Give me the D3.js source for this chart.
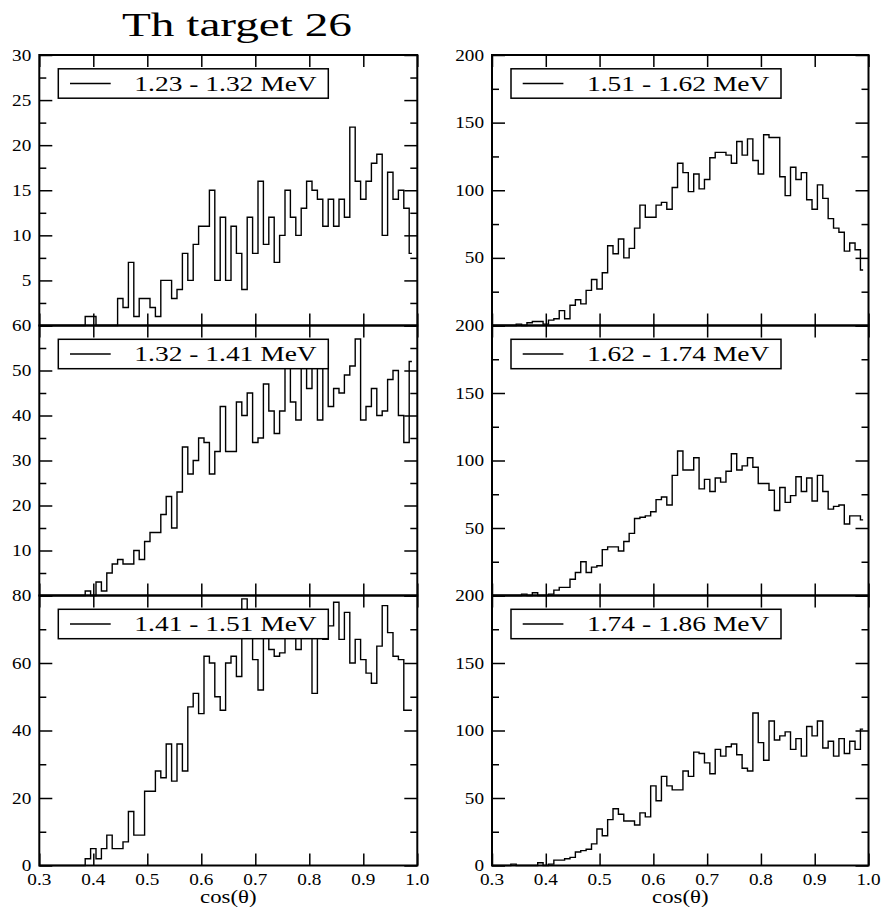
<!DOCTYPE html>
<html>
<head>
<meta charset="utf-8">
<script src="https://cdn.jsdelivr.net/npm/d3@7"></script>
<style>
  html, body { margin: 0; padding: 0; background: #fff; }
  svg { display: block; }
  text { font-family: "Liberation Serif", "DejaVu Serif", serif; fill: #000; }
</style>
</head>
<body>
<svg id="chart" width="885" height="911"></svg>
<script>
// Bin centres in cos(theta)
const cosTheta = [
  0.30, 0.31, 0.32, 0.33, 0.34, 0.35, 0.36, 0.37, 0.38, 0.39,
  0.40, 0.41, 0.42, 0.43, 0.44, 0.45, 0.46, 0.47, 0.48, 0.49,
  0.50, 0.51, 0.52, 0.53, 0.54, 0.55, 0.56, 0.57, 0.58, 0.59,
  0.60, 0.61, 0.62, 0.63, 0.64, 0.65, 0.66, 0.67, 0.68, 0.69,
  0.70, 0.71, 0.72, 0.73, 0.74, 0.75, 0.76, 0.77, 0.78, 0.79,
  0.80, 0.81, 0.82, 0.83, 0.84, 0.85, 0.86, 0.87, 0.88, 0.89,
  0.90, 0.91, 0.92, 0.93, 0.94, 0.95, 0.96, 0.97, 0.98, 0.99
];

// Counts per energy window
const counts_123_132 = [
  0, 0, 0, 0, 0, 0, 0, 0, 0, 1,
  1, 0, 0, 0, 0, 3, 2, 7, 1, 3,
  3, 2, 1, 5, 5, 3, 4, 8, 5, 9,
  11, 11, 15, 5, 12, 5, 11, 8, 4, 12,
  8, 16, 9, 12, 7, 10, 15, 12, 10, 13,
  16, 15, 14, 11, 14, 11, 14, 12, 22, 16,
  14, 16, 18, 19, 10, 17, 14, 15, 13, 8
];
const counts_132_141 = [
  0, 0, 0, 0, 0, 0, 0, 0, 0, 1,
  0, 3, 1, 5, 7, 8, 7, 7, 10, 8,
  12, 14, 14, 18, 22, 15, 23, 33, 27, 30,
  35, 34, 27, 32, 42, 32, 32, 43, 40, 45,
  34, 35, 47, 41, 36, 41, 52, 43, 39, 52,
  46, 52, 39, 51, 42, 46, 45, 49, 51, 57,
  39, 42, 46, 40, 41, 48, 50, 40, 34, 52
];
const counts_141_151 = [
  0, 0, 0, 0, 0, 0, 0, 0, 0, 2,
  5, 2, 5, 9, 5, 5, 7, 16, 9, 9,
  22, 22, 28, 26, 36, 25, 36, 28, 47, 51,
  45, 62, 60, 50, 46, 60, 62, 56, 79, 68,
  61, 52, 70, 64, 62, 63, 70, 70, 64, 70,
  70, 51, 70, 67, 71, 78, 67, 75, 60, 67,
  61, 57, 54, 65, 77, 69, 62, 61, 46, 46
];
const counts_151_162 = [
  0, 0, 0, 0, 0, 1, 0, 2, 3, 3,
  1, 4, 5, 11, 5, 15, 19, 16, 26, 34,
  27, 39, 59, 53, 64, 50, 57, 72, 89, 80,
  80, 89, 91, 86, 102, 120, 113, 99, 112, 101,
  108, 124, 128, 128, 126, 120, 136, 126, 138, 122,
  112, 141, 139, 139, 110, 96, 117, 108, 113, 93,
  86, 104, 94, 79, 72, 69, 55, 61, 56, 41
];
const counts_162_174 = [
  0, 0, 0, 0, 0, 0, 1, 0, 2, 0,
  0, 1, 4, 6, 6, 12, 17, 25, 17, 21,
  22, 34, 36, 36, 33, 40, 46, 57, 58, 59,
  62, 71, 73, 67, 89, 107, 93, 93, 102, 79,
  86, 77, 87, 84, 92, 105, 93, 96, 102, 95,
  83, 83, 78, 63, 80, 69, 74, 88, 77, 87,
  70, 89, 77, 64, 66, 67, 53, 59, 59, 56
];
const counts_174_186 = [
  0, 0, 0, 0, 1, 0, 0, 0, 0, 2,
  0, 1, 4, 4, 5, 6, 10, 11, 12, 16,
  27, 22, 34, 42, 38, 33, 33, 30, 39, 36,
  59, 48, 66, 59, 56, 56, 70, 66, 84, 83,
  76, 68, 86, 81, 88, 90, 82, 72, 70, 113,
  91, 78, 107, 93, 96, 99, 86, 94, 81, 103,
  96, 107, 87, 92, 81, 94, 83, 92, 86, 101
];

// Energy window labels
const windowLabels = [
  "1.23 - 1.32 MeV", "1.32 - 1.41 MeV", "1.41 - 1.51 MeV",
  "1.51 - 1.62 MeV", "1.62 - 1.74 MeV", "1.74 - 1.86 MeV"
];

// Axis ticks
const xTicks = [0.3, 0.4, 0.5, 0.6, 0.7, 0.8, 0.9, 1.0];
const yMax = [30, 60, 80, 200, 200, 200];
const yMajorStep = [5, 10, 20, 50, 50, 50];
const yMinorStep = [2.5, 5, 10, 25, 25, 25];
const yLabelsShown = [
  [5, 10, 15, 20, 25, 30],
  [10, 20, 30, 40, 50, 60],
  [0, 20, 40, 60, 80],
  [50, 100, 150, 200],
  [50, 100, 150, 200],
  [0, 50, 100, 150, 200]
];
const seriesList = [counts_123_132, counts_132_141, counts_141_151,
                    counts_151_162, counts_162_174, counts_174_186];

// ---- layout ----
const SX = 1.2;                  // horizontal glyph stretch of tick text
const columns = [[39.3, 417.3], [492, 868.5]];
const rows = [[55, 325.5], [325.5, 595.5], [595.5, 865.5]];

const svg = d3.select("#chart");
svg.append("rect").attr("width", 885).attr("height", 911).attr("fill", "#fff");

function sText(g, x, y, str, size, anchor, sx) {
  return g.append("text")
    .attr("transform", `translate(${x},${y}) scale(${sx || SX},1)`)
    .attr("text-anchor", anchor || "start")
    .attr("font-size", size)
    .text(str);
}

// Title
svg.append("text")
  .attr("x", 122).attr("y", 36)
  .attr("font-size", 33)
  .attr("textLength", 230).attr("lengthAdjust", "spacingAndGlyphs")
  .text("Th target 26");

seriesList.forEach((counts, p) => {
  const col = Math.floor(p / 3), row = p % 3;
  const [x0, x1] = columns[col];
  const [y0, y1] = rows[row];
  const g = svg.append("g");

  const x = d3.scaleLinear().domain([0.3, 1.0]).range([x0, x1]);
  const y = d3.scaleLinear().domain([0, yMax[p]]).range([y1, y0]);

  const majors = d3.range(0, yMax[p] + 1e-9, yMajorStep[p]);
  const minors = d3.range(0, yMax[p] + 1e-9, yMinorStep[p])
    .filter(v => Math.abs(v / yMajorStep[p] - Math.round(v / yMajorStep[p])) > 1e-6);

  // histogram
  const line = d3.line()
    .x((d, i) => x(cosTheta[i]))
    .y(d => y(d))
    .curve(d3.curveStep);
  g.append("path")
    .attr("d", line(counts))
    .attr("fill", "none")
    .attr("stroke", "#000")
    .attr("stroke-width", 1.4);

  // tick marks via d3 axes (inward)
  const axes = [
    [d3.axisBottom(x).tickValues(xTicks).tickSizeInner(-12), `translate(0,${y1})`],
    [d3.axisTop(x).tickValues(xTicks).tickSizeInner(-12), `translate(0,${y0})`],
    [d3.axisLeft(y).tickValues(majors).tickSizeInner(-13), `translate(${x0},0)`],
    [d3.axisLeft(y).tickValues(minors).tickSizeInner(-7), `translate(${x0},0)`],
    [d3.axisRight(y).tickValues(majors).tickSizeInner(-13), `translate(${x1},0)`],
    [d3.axisRight(y).tickValues(minors).tickSizeInner(-7), `translate(${x1},0)`]
  ];
  axes.forEach(([ax, tr]) => {
    const a = g.append("g").attr("transform", tr)
      .call(ax.tickSizeOuter(0).tickFormat(""));
    a.select(".domain").remove();
    a.selectAll("line").attr("stroke", "#000").attr("stroke-width", 1.5);
  });

  // frame
  g.append("rect")
    .attr("x", x0).attr("y", y0)
    .attr("width", x1 - x0).attr("height", y1 - y0)
    .attr("fill", "none").attr("stroke", "#000").attr("stroke-width", 2);

  // y labels
  yLabelsShown[p].forEach(v => {
    sText(g, x0 - 8, y(v) + 5.5, String(v), 16, "end");
  });

  // x labels on bottom row
  if (row === 2) {
    xTicks.forEach(v => sText(g, x(v), 885, v.toFixed(1), 16, "middle"));
    sText(g, (x0 + x1) / 2, 903, "cos(\u03b8)", 19, "middle", 1.2);
  }

  // legend
  const lx = x0 + 19, ly = y0 + 13.8, lw = 270, lh = 29.4;
  g.append("rect")
    .attr("x", lx).attr("y", ly).attr("width", lw).attr("height", lh)
    .attr("fill", "#fff").attr("stroke", "#000").attr("stroke-width", 1.5);
  g.append("line")
    .attr("x1", x0 + 30.7).attr("x2", x0 + 71.4)
    .attr("y1", ly + lh / 2).attr("y2", ly + lh / 2)
    .attr("stroke", "#000").attr("stroke-width", 1.3);
  g.append("text")
    .attr("x", x0 + 95).attr("y", ly + lh / 2 + 7)
    .attr("font-size", 20)
    .attr("textLength", 182.4).attr("lengthAdjust", "spacingAndGlyphs")
    .text(windowLabels[p]);
});
</script>
</body>
</html>
